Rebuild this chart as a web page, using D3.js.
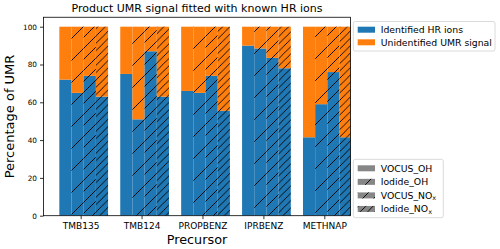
<html>
<head>
<style>
  body { margin: 0; background: #fff; }
  text { font-family: "DejaVu Sans", sans-serif; fill: #000; }
</style>
</head>
<body>
<svg id="chart" width="500" height="249"></svg>
<script src="https://cdn.jsdelivr.net/npm/d3@7"></script>
<script>
// data
const precursors = ["TMB135", "TMB124", "PROPBENZ", "IPRBENZ", "METHNAP"]
const methods = ["VOCUS_OH", "Iodide_OH", "VOCUS_NOx", "Iodide_NOx"]
const vocusOH = [72, 75, 66, 90, 41.5]
const iodideOH = [65, 51, 65, 88.5, 59]
const vocusNOx = [74, 87, 74, 83.5, 76]
const iodideNOx = [63, 63, 55.5, 78, 41.5]
const hatchCount = [0, 1, 2, 3] // "/", "//", "///"
const yTicks = [0, 20, 40, 60, 80, 100]

const series = [vocusOH, iodideOH, vocusNOx, iodideNOx]
const blue = "#1f77b4", orange = "#ff7f0e"

let svg = d3.select("#chart")

let plotLeft = 43.5, plotRight = 350.5, plotTop = 17.25, plotBottom = 215.7

let x = d3.scaleLinear().domain([-0.61, 4.43]).range([plotLeft, plotRight])
let y = d3.scaleLinear().domain([0, 105]).range([plotBottom, plotTop])

// hatch patterns, lines "/" spaced like matplotlib's hatch density
let defs = svg.append("defs")
let cell = 22
for (let n = 1; n <= 3; n++) {
    let s = cell / n
    defs.append("pattern")
        .attr("id", "hatch" + n)
        .attr("patternUnits", "userSpaceOnUse")
        .attr("width", s).attr("height", s)
        .append("path")
        .attr("d", `M0,${s} L${s},0 M-1,1 L1,-1 M${s - 1},${s + 1} L${s + 1},${s - 1}`)
        .attr("stroke", "#000")
        .attr("stroke-width", 0.9)
}
defs.append("clipPath").attr("id", "plotClip")
    .append("rect")
    .attr("x", plotLeft).attr("y", plotTop)
    .attr("width", plotRight - plotLeft).attr("height", plotBottom - plotTop)

let plot = svg.append("g").attr("clip-path", "url(#plotClip)")

let barW = 0.2
series.forEach((vals, k) => {
    let bars = vals.map((v, i) => ({ i: i, v: v, x0: i - 0.35 + k * barW }))
    let g = plot.append("g")
    // identified
    g.selectAll(".idf").data(bars).enter().append("rect")
        .attr("x", d => x(d.x0))
        .attr("width", d => x(d.x0 + barW) - x(d.x0))
        .attr("y", d => y(d.v))
        .attr("height", d => y(0) - y(d.v))
        .attr("fill", blue)
    // unidentified
    g.selectAll(".unid").data(bars).enter().append("rect")
        .attr("x", d => x(d.x0))
        .attr("width", d => x(d.x0 + barW) - x(d.x0))
        .attr("y", y(100))
        .attr("height", d => y(d.v) - y(100))
        .attr("fill", orange)
    if (hatchCount[k] > 0) {
        g.selectAll(".hatch").data(bars).enter().append("rect")
            .attr("x", d => x(d.x0))
            .attr("width", d => x(d.x0 + barW) - x(d.x0))
            .attr("y", y(100))
            .attr("height", y(0) - y(100))
            .attr("fill", "url(#hatch" + hatchCount[k] + ")")
    }
})

// axes
let yAxis = d3.axisLeft(y).tickValues(yTicks).tickSize(3.5).tickPadding(3)
svg.append("g").attr("transform", `translate(${plotLeft},0)`).call(yAxis)
    .call(g => g.select(".domain").remove())
    .call(g => g.selectAll("text").style("font-size", "7.3px").attr("font-family", "DejaVu Sans"))
    .call(g => g.selectAll("line").attr("stroke", "#000").attr("stroke-width", 0.8))

let xAxis = d3.axisBottom(x).tickValues(d3.range(precursors.length))
    .tickFormat(i => precursors[i]).tickSize(3.5).tickPadding(3)
svg.append("g").attr("transform", `translate(0,${plotBottom})`).call(xAxis)
    .call(g => g.select(".domain").remove())
    .call(g => g.selectAll("text").style("font-size", "9px").attr("font-family", "DejaVu Sans"))
    .call(g => g.selectAll("line").attr("stroke", "#000").attr("stroke-width", 0.8))

svg.append("rect")
    .attr("x", plotLeft).attr("y", plotTop)
    .attr("width", plotRight - plotLeft).attr("height", plotBottom - plotTop)
    .attr("fill", "none").attr("stroke", "#000").attr("stroke-width", 0.8)

// titles
svg.append("text").attr("x", (plotLeft + plotRight) / 2).attr("y", 12)
    .attr("text-anchor", "middle").style("font-size", "11px")
    .text("Product UMR signal fitted with known HR ions")
svg.append("text").attr("x", (plotLeft + plotRight) / 2).attr("y", 244)
    .attr("text-anchor", "middle").style("font-size", "12.8px")
    .text("Precursor")
svg.append("text")
    .attr("transform", `translate(14,${(plotTop + plotBottom) / 2}) rotate(-90)`)
    .attr("text-anchor", "middle").style("font-size", "13px")
    .text("Percentage of UMR")

// legend 1: colours
let lg1 = svg.append("g")
lg1.append("rect").attr("x", 353.3).attr("y", 21.5).attr("width", 141.7).attr("height", 29.5)
    .attr("rx", 2).attr("fill", "#fff").attr("stroke", "#d0d0d0").attr("stroke-width", 0.8)
let colorItems = [["Identified HR ions", blue], ["Unidentified UMR signal", orange]]
colorItems.forEach((d, k) => {
    let cy = 29.7 + k * 12.6
    lg1.append("rect").attr("x", 357.7).attr("y", cy - 3).attr("width", 17.3).attr("height", 6).attr("fill", d[1])
    lg1.append("text").attr("x", 380.7).attr("y", cy).attr("dy", "0.35em")
        .style("font-size", "9.3px").text(d[0])
})

// legend 2: hatches
let lg2 = svg.append("g")
lg2.append("rect").attr("x", 353.3).attr("y", 159.3).attr("width", 90).attr("height", 58.4)
    .attr("rx", 2).attr("fill", "#fff").attr("stroke", "#d0d0d0").attr("stroke-width", 0.8)
methods.forEach((m, k) => {
    let cy = 168.3 + k * 13.55
    lg2.append("rect").attr("x", 357.7).attr("y", cy - 3).attr("width", 17.3).attr("height", 6).attr("fill", "#868686")
    if (hatchCount[k] > 0) {
        lg2.append("rect").attr("x", 357.7).attr("y", cy - 3).attr("width", 17.3).attr("height", 6)
            .attr("fill", "url(#hatch" + hatchCount[k] + ")")
    }
    let t = lg2.append("text").attr("x", 380.7).attr("y", cy).attr("dy", "0.35em").style("font-size", "9.3px")
    if (m.endsWith("NOx")) {
        t.append("tspan").text(m.slice(0, -1))
        t.append("tspan").attr("dy", "0.25em").style("font-size", "6.5px").text("x")
    } else {
        t.text(m)
    }
})
</script>
</body>
</html>
